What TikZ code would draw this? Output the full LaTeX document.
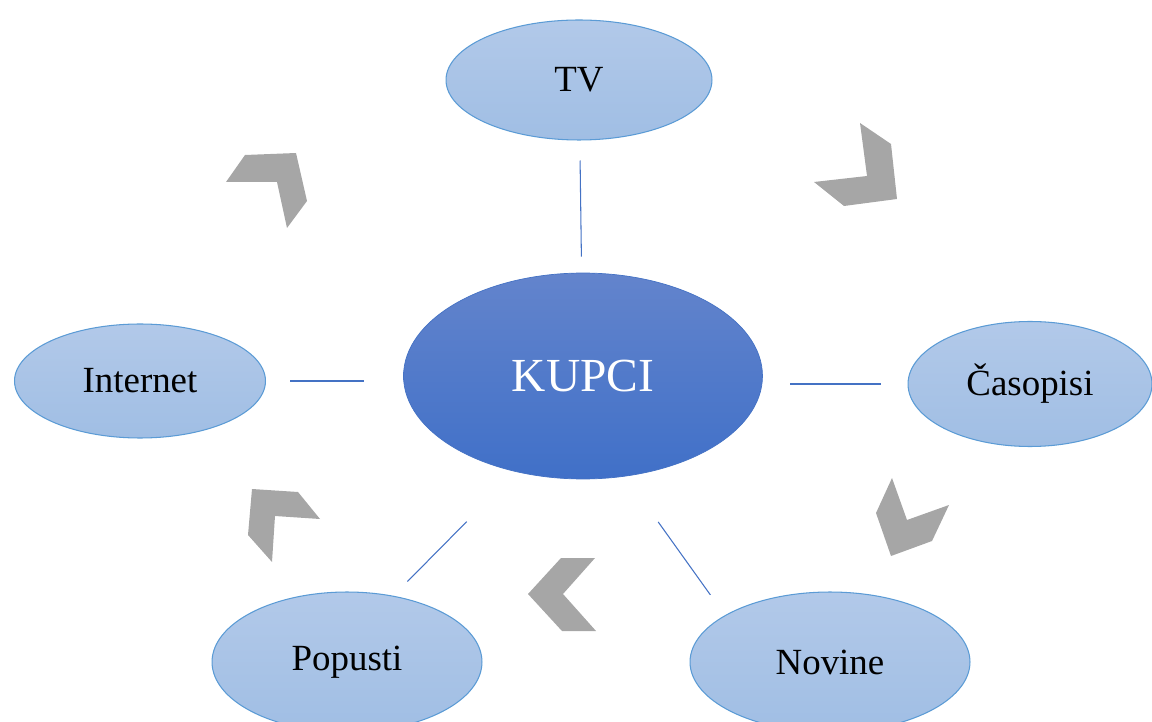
\documentclass[tikz,border=0pt]{standalone}
\usepackage{fontspec}
\setmainfont{Liberation Serif}
\usepackage{tikz}
\usetikzlibrary{shapes.geometric}

\definecolor{outerfilltop}{RGB}{178,201,233}
\definecolor{outerfillbot}{RGB}{160,190,228}
\definecolor{outerline}{RGB}{91,155,213}
\definecolor{innertop}{RGB}{99,132,204}
\definecolor{innerbot}{RGB}{64,112,200}
\definecolor{linkblue}{RGB}{68,114,196}
\definecolor{chevgray}{RGB}{166,166,166}

\begin{document}
\begin{tikzpicture}[x = 0.02cm, y = -0.02cm,
                    outer/.style = {ellipse, draw = outerline, line width = 0.6pt, inner sep = 0pt,
                                    top color = outerfilltop, bottom color = outerfillbot,
                                    font = \fontsize{21}{25}\selectfont},
                    inner/.style = {ellipse, draw = linkblue, line width = 0.4pt, inner sep = 0pt,
                                    top color = innertop, bottom color = innerbot,
                                    text = white, font = \fontsize{27}{32}\selectfont},
                    link/.style = {draw = linkblue, line width = 0.6pt},
                    chevron/.style = {fill = chevgray}]

\clip (0,0) rectangle (1152,722);

% centre
\node [inner, minimum width = 7.18cm, minimum height = 4.12cm] (kupci) at (583,376) {KUPCI};

% outer ring
\node [outer, minimum width = 5.32cm, minimum height = 2.4cm] (tv) at (579,80) {TV};
\node [outer, minimum width = 4.88cm, minimum height = 2.5cm] (casopisi) at (1030,384) {Časopisi};
\node [outer, minimum width = 5.6cm, minimum height = 2.8cm] (novine) at (830,662) {Novine};
\node [outer, minimum width = 5.4cm, minimum height = 2.8cm] (popusti) at (347,662) {Popusti};
\node [outer, minimum width = 5.02cm, minimum height = 2.28cm] (internet) at (140,381) {Internet};

% links to the centre
\draw[link, shorten <= 0.4cm, shorten >= 0.32cm] (tv) -- (kupci);
\draw[link, shorten <= 0.48cm, shorten >= 0.78cm] (internet.east) -- (internet.east -| kupci.west);
\draw[link, shorten <= 0.54cm, shorten >= 0.54cm] (casopisi.west) -- (casopisi.west -| kupci.east);
\draw[link, shorten <= 0.4cm, shorten >= 1.4cm] (popusti.55) -- (kupci.235);
\draw[link, shorten <= 0.5cm, shorten >= 1.12cm] (novine.156) -- (kupci.293);

% chevrons
\fill[chevron] (860,123) -- (891,144) -- (897,199) -- (844,206) -- (814,182) -- (867,176) -- cycle;
\fill[chevron] (892,478) -- (907,520) -- (949,505) -- (932,541) -- (891,556) -- (876,513) -- cycle;
\fill[chevron] (561,558) -- (595,558) -- (563,594) -- (596,631) -- (562,631) -- (528,594) -- cycle;
\fill[chevron] (252,489) -- (298,492) -- (320,519) -- (275,516) -- (272,562) -- (248,535) -- cycle;
\fill[chevron] (245,155) -- (296,153) -- (307,201) -- (287,228) -- (277,182) -- (226,182) -- cycle;
\end{tikzpicture}
\end{document}
